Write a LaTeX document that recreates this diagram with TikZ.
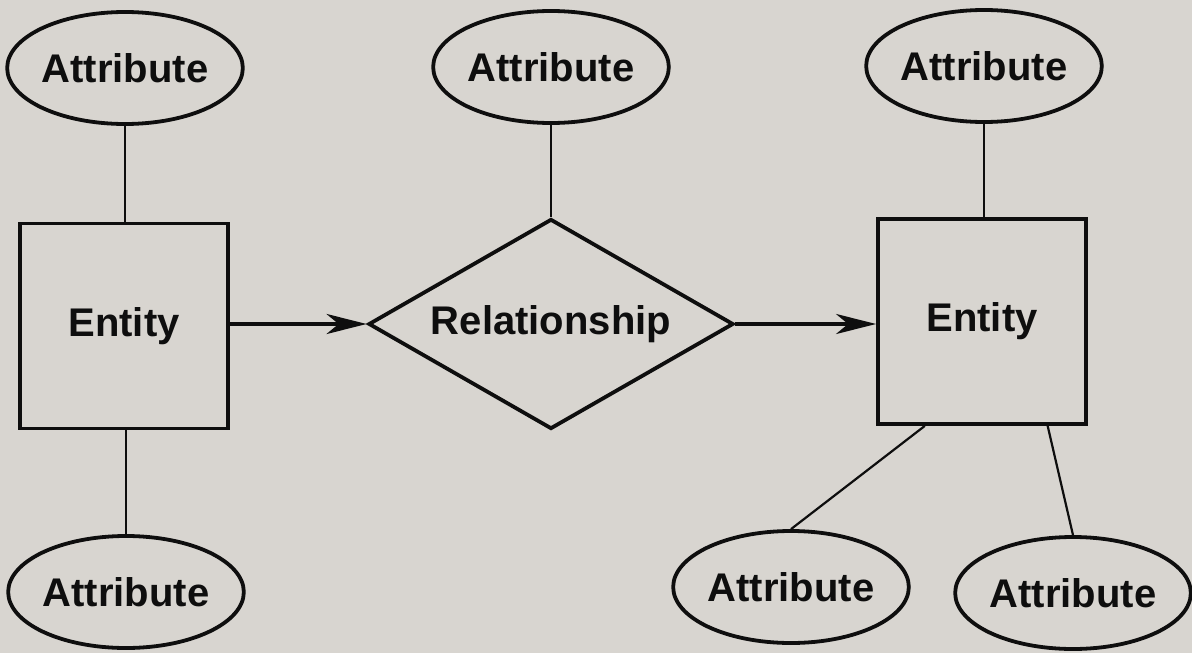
\documentclass[tikz,border=0pt]{standalone}
\usepackage{fontspec}
\setmainfont{Liberation Sans}
\usetikzlibrary{shapes.geometric,arrows.meta,calc}
\definecolor{bgc}{RGB}{216,213,208}
\definecolor{ink}{RGB}{14,14,14}
\tikzset{
  base/.style={draw=ink, line width=3.8pt, inner sep=0pt, font=\fontsize{40}{42}\selectfont\bfseries, text=ink},
  attr/.style={base, ellipse, minimum width=232pt, minimum height=112pt},
  ent/.style={base, rectangle, minimum width=208pt, minimum height=205pt},
  rel/.style={base, diamond, minimum width=365pt, minimum height=210pt, aspect=1.73},
  link/.style={draw=ink, line width=2.2pt},
  arr/.style={draw=ink, line width=4pt, -{Stealth[length=40pt, width=20pt, inset=12pt]}}
}
\begin{document}
\begin{tikzpicture}[x=1pt, y=-1pt]
\fill[bgc] (0,0) rectangle (1192,653);
\useasboundingbox (0,0) rectangle (1192,653);
\node[ent] (e1) at (124,326) {Entity};
\node[ent] (e2) at (982,321.5) {Entity};
\node[rel] (r) at (551,324) {Relationship};
\node[attr] (a1) at (125,68) {Attribute};
\node[attr] (a2) at (551,67) {Attribute};
\node[attr] (a3) at (984,66) {Attribute};
\node[attr] (a6) at (126,592) {Attribute};
\node[attr] (a4) at (791,587) {Attribute};
\node[attr] (a5) at (1073,593) {Attribute};
\draw[link] (a1.south) -- (a1.south |- e1.north);
\draw[link] (a2.south) -- (r.north);
\draw[link] (a3.south) -- (a3.south |- e2.north);
\draw[link] (a6.north |- e1.south) -- (a6.north);
\draw[link] ($(e2.south west)!0.23!(e2.south east)$) -- (a4.north);
\draw[link] ($(e2.south west)!0.81!(e2.south east)$) -- (a5.north);
\draw[arr] (e1.east |- r.west) -- (r.west);
\draw[arr] (r.east) -- (r.east -| e2.west);
\end{tikzpicture}
\end{document}
